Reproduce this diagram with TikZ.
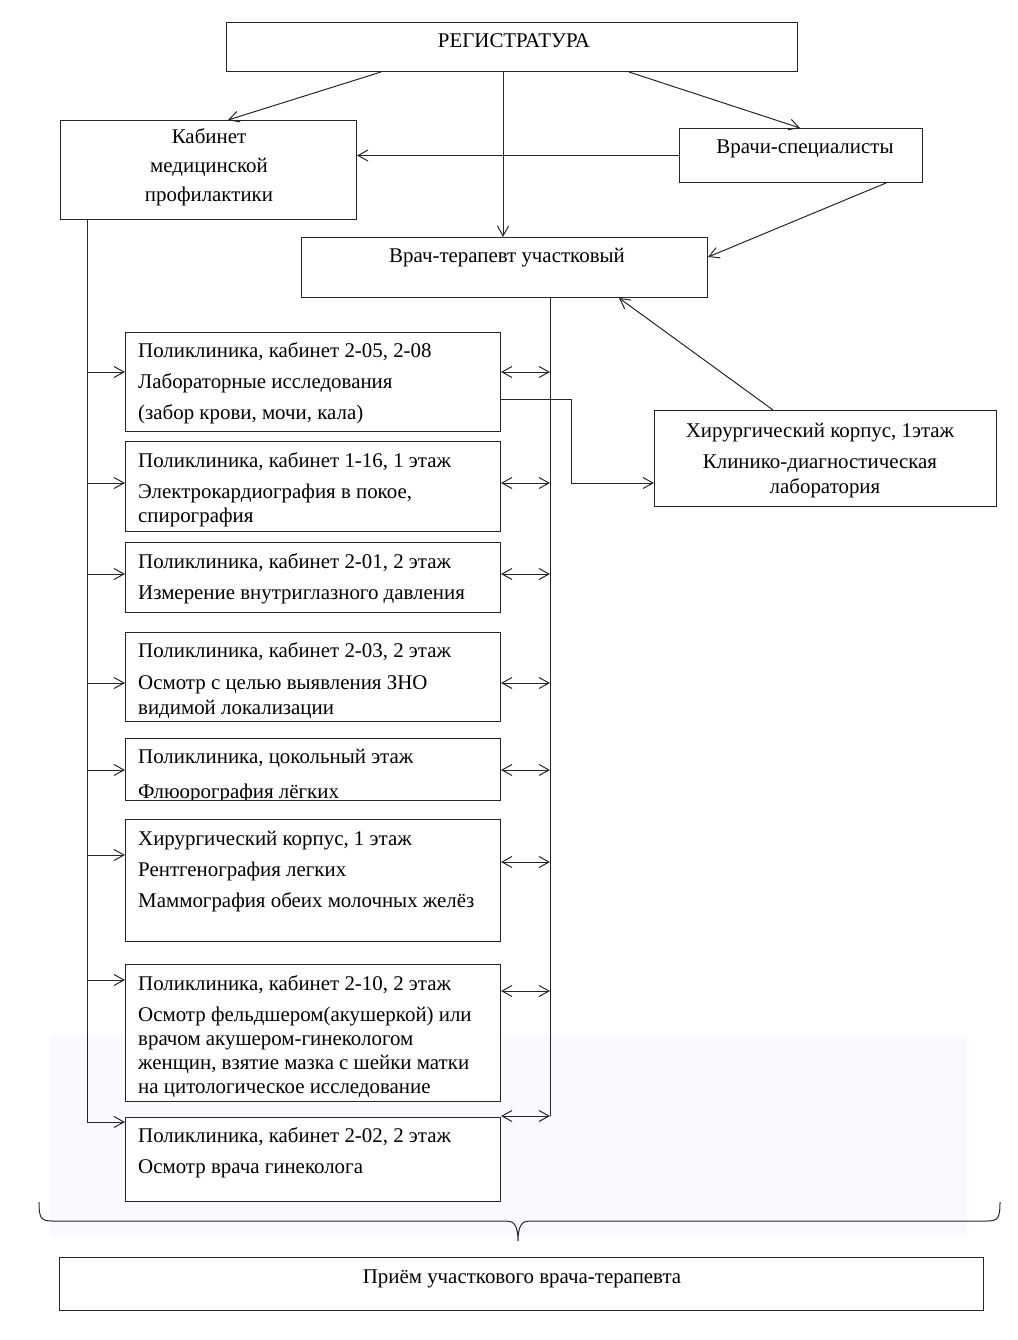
\documentclass[tikz,border=0pt]{standalone}
\usepackage{fontspec}
\setmainfont{Liberation Serif}
\usetikzlibrary{arrows.meta,calc}
\begin{document}
\begin{tikzpicture}[x=1pt,y=-1pt,
  box/.style={draw=black!85, line width=1pt, fill=white, inner sep=0pt, anchor=north west},
  txt/.style={inner sep=0pt, font=\fontsize{20.9}{24}\selectfont},
  lt/.style={txt, anchor=base west},
  ct/.style={txt, anchor=base},
  ln/.style={line width=1pt, draw=black!85},
  barb/.tip={Straight Barb[length=10pt,width=11pt,line width=1pt]},
  arr/.style={ln, -barb},
  darr/.style={ln, barb-barb},
]
\useasboundingbox (0,0) rectangle (1017,1340);
\fill[color={rgb,255:red,249;green,250;blue,253}] (50,1035) rectangle (967,1237);

% boxes
\node[box, minimum width=571pt, minimum height=49pt] (reg) at (226,22) {};
\node[box, minimum width=296pt, minimum height=99pt] (kab) at (60,120) {};
\node[box, minimum width=243pt, minimum height=54pt] (spec) at (679,128) {};
\node[box, minimum width=406pt, minimum height=60pt] (ter) at (301,237) {};
\node[box, minimum width=342pt, minimum height=96pt] (hir) at (654,410) {};
\node[box, minimum width=375pt, minimum height=99pt] (b1) at (125,332) {};
\node[box, minimum width=375pt, minimum height=90pt] (b2) at (125,441) {};
\node[box, minimum width=375pt, minimum height=70pt] (b3) at (125,542) {};
\node[box, minimum width=375pt, minimum height=89pt] (b4) at (125,632) {};
\node[box, minimum width=375pt, minimum height=62pt] (b5) at (125,738) {};
\node[box, minimum width=375pt, minimum height=122pt] (b6) at (125,819) {};
\node[box, minimum width=375pt, minimum height=137pt] (b7) at (125,964) {};
\node[box, minimum width=375pt, minimum height=84pt] (b8) at (125,1117) {};
\node[box, minimum width=924pt, minimum height=53pt] (pri) at (59,1257) {};

% texts
\node[ct] (t-reg) at (514,48) {РЕГИСТРАТУРА};
\node[ct] (t-kab1) at (209,144) {Кабинет};
\node[ct] (t-kab2) at (209,173) {медицинской};
\node[ct] (t-kab3) at (209,202) {профилактики};
\node[ct] (t-spec) at (805,154) {Врачи-специалисты};
\node[ct] (t-ter) at (507,262) {Врач-терапевт участковый};
\node[ct] (t-hir1) at (820,437) {Хирургический корпус, 1этаж};
\node[ct] (t-hir2) at (820,468) {Клинико-диагностическая};
\node[ct] (t-hir3) at (825,493) {лаборатория};

\node[lt] (t-b1a) at (138,357) {Поликлиника, кабинет 2-05, 2-08};
\node[lt] (t-b1b) at (138,388) {Лабораторные исследования};
\node[lt] (t-b1c) at (138,419) {(забор крови, мочи, кала)};
\node[lt] (t-b2a) at (138,467) {Поликлиника, кабинет 1-16, 1 этаж};
\node[lt] (t-b2b) at (138,498) {Электрокардиография в покое,};
\node[lt] (t-b2c) at (138,522) {спирография};
\node[lt] (t-b3a) at (138,568) {Поликлиника, кабинет 2-01, 2 этаж};
\node[lt] (t-b3b) at (138,599) {Измерение внутриглазного давления};
\node[lt] (t-b4a) at (138,657) {Поликлиника, кабинет 2-03, 2 этаж};
\node[lt] (t-b4b) at (138,689) {Осмотр с целью выявления ЗНО};
\node[lt] (t-b4c) at (138,714) {видимой локализации};
\node[lt] (t-b5a) at (138,763) {Поликлиника, цокольный этаж};
\begin{scope}
\clip (125,738) rectangle (500,799.5);
\node[lt] (t-b5b) at (138,798.5) {Флюорография лёгких};
\end{scope}
\node[lt] (t-b6a) at (138,845) {Хирургический корпус, 1 этаж};
\node[lt] (t-b6b) at (138,876) {Рентгенография легких};
\node[lt] (t-b6c) at (138,907) {Маммография обеих молочных желёз};
\node[lt] (t-b7a) at (138,990) {Поликлиника, кабинет 2-10, 2 этаж};
\node[lt] (t-b7b) at (138,1021) {Осмотр фельдшером(акушеркой) или};
\node[lt] (t-b7c) at (138,1045) {врачом акушером-гинекологом};
\node[lt] (t-b7d) at (138,1069) {женщин, взятие мазка с шейки матки};
\node[lt] (t-b7e) at (138,1093) {на цитологическое исследование};
\node[lt] (t-b8a) at (138,1142) {Поликлиника, кабинет 2-02, 2 этаж};
\node[lt] (t-b8b) at (138,1173) {Осмотр врача гинеколога};
\node[ct] (t-pri) at (522,1283) {Приём участкового врача-терапевта};

% top connectors
\draw[arr] ([xshift=155pt]reg.south west) -- ([xshift=168pt]kab.north west);
\draw[arr] ([xshift=277pt]reg.south west) -- ([xshift=202pt]ter.north west);
\draw[arr] ([xshift=403pt]reg.south west) -- ([xshift=121pt]spec.north west);
\draw[arr] (spec.west) -- (spec.west -| kab.east);
\draw[arr] ([xshift=207pt]spec.south west) -- ([yshift=-20pt]ter.north east);
\draw[arr] ([xshift=119pt]hir.north west) -- ([xshift=318pt]ter.south west);

% left trunk
\coordinate (LT) at ([xshift=27pt]kab.south west);
\coordinate (L1) at (LT |- 0,372);
\coordinate (L2) at (LT |- 0,483);
\coordinate (L3) at (LT |- 0,574);
\coordinate (L4) at (LT |- 0,683);
\coordinate (L5) at (LT |- 0,770);
\coordinate (L6) at (LT |- 0,855);
\coordinate (L7) at (LT |- 0,980);
\coordinate (L8) at (LT |- 0,1122);
\draw[ln] (LT) -- (L8);
\foreach \i in {1,...,8} {\draw[arr] (L\i) -- (L\i -| b\i.west);}

% right trunk
\coordinate (RT) at ([xshift=249pt]ter.south west);
\coordinate (R1) at (RT |- 0,372);
\coordinate (R2) at (RT |- 0,483);
\coordinate (R3) at (RT |- 0,574);
\coordinate (R4) at (RT |- 0,683);
\coordinate (R5) at (RT |- 0,770);
\coordinate (R6) at (RT |- 0,862);
\coordinate (R7) at (RT |- 0,991);
\coordinate (R8) at (RT |- 0,1116);
\draw[ln] (RT) -- (R8);
\foreach \i in {1,...,8} {\draw[darr] (R\i -| b\i.east) -- (R\i);}

% to laboratory
\coordinate (K1) at (b1.east |- 0,399);
\coordinate (K2) at (571,399);
\coordinate (K3) at (hir.west |- 0,483);
\draw[arr] (K1) -- (K2) |- (K3);

% brace
\draw[line width=1pt, black!85] (39,1202) .. controls (39,1218) and (41,1221) .. (52,1221)
  -- (507,1221) .. controls (514,1221) and (518,1226) .. (518,1241)
  .. controls (518,1226) and (522,1221) .. (529,1221)
  -- (987,1221) .. controls (998,1221) and (1000,1218) .. (1000,1202);
\end{tikzpicture}
\end{document}
